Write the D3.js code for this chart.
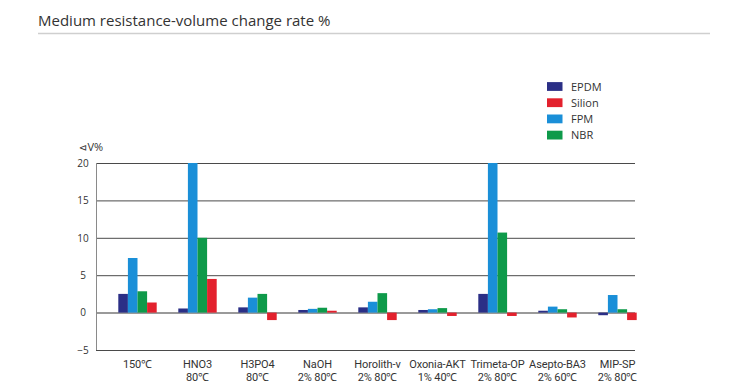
<!DOCTYPE html>
<html><head><meta charset="utf-8">
<script src="https://cdn.jsdelivr.net/npm/d3@7"></script>
<style>
body{margin:0;background:#fff;}
svg{display:block;font-family:"Open Sans","Noto Sans",sans-serif;}
</style></head>
<body><svg id="chart" width="750" height="392"></svg>
<script>
const categories = ["150℃", "HNO3\n80℃", "H3PO4\n80℃", "NaOH\n2% 80℃", "Horolith-v\n2% 80℃", "Oxonia-AKT\n1% 40℃", "Trimeta-OP\n2% 80℃", "Asepto-BA3\n2% 60℃", "MIP-SP\n2% 80℃"];
const barOrder = ["EPDM", "FPM", "NBR", "Silion"];
const legendOrder = ["EPDM", "Silion", "FPM", "NBR"];
const EPDM   = [2.5, 0.55, 0.7, 0.35, 0.7, 0.35, 2.5, 0.25, -0.35];
const FPM    = [7.3, 20, 2.0, 0.5, 1.45, 0.45, 20, 0.8, 2.35];
const NBR    = [2.85, 10, 2.5, 0.65, 2.6, 0.6, 10.7, 0.45, 0.45];
const Silion = [1.35, 4.5, -1.0, 0.25, -1.0, -0.45, -0.45, -0.65, -1.0];
const yTicks = [-5, 0, 5, 10, 15, 20];
const colors = {EPDM:"#2b2f86", Silion:"#e3212d", FPM:"#1a8fd8", NBR:"#0e9a4a"};
const seriesData = {EPDM, FPM, NBR, Silion};

const svg = d3.select("#chart");

// title
svg.append("text").attr("x", 38).attr("y", 26).attr("fill", "#333")
  .style("font-size", "15px").text("Medium resistance-volume change rate %");
svg.append("line").attr("x1", 38).attr("x2", 710).attr("y1", 33.5).attr("y2", 33.5)
  .attr("stroke", "#cfcfcf").attr("stroke-width", 1.5);

const plotL = 96, plotR = 635;
const y = d3.scaleLinear().domain([-5, 20]).range([350, 163]);
const x0 = d3.scaleBand().domain(categories).range([107.5, 647.5]).paddingInner(0.36).paddingOuter(0.18);
const x1 = d3.scaleBand().domain(barOrder).range([0, x0.bandwidth()]);

// y axis with grid
const yAxis = svg.append("g").attr("transform", `translate(${plotL},0)`)
  .call(d3.axisLeft(y).tickValues(yTicks).tickSize(-(plotR - plotL)).tickPadding(8));
yAxis.select(".domain").remove();
yAxis.selectAll(".tick line").attr("stroke", d => d === 0 ? "#9a9a9a" : "#4a4a4a")
  .attr("stroke-width", d => d === 0 ? 2 : 1);
yAxis.selectAll(".tick text").attr("text-anchor", "middle").attr("x", -13)
  .attr("fill", "#333").style("font-size", "10px").style("font-family", "'Open Sans',sans-serif");
svg.append("line").attr("x1", plotL + 0.5).attr("x2", plotL + 0.5).attr("y1", y(20)).attr("y2", y(-5))
  .attr("stroke", "#8a8a8a").attr("stroke-width", 1);

const yl = svg.append("text").attr("x", 79).attr("y", 151).attr("fill", "#333").style("font-size", "11px");
yl.append("tspan").style("font-family", "'DejaVu Sans',sans-serif").style("font-size", "10px").text("⊲");
yl.append("tspan").text("V%");

// bars
const groups = svg.append("g").selectAll("g").data(categories).join("g")
  .attr("transform", d => `translate(${x0(d)},0)`);
groups.selectAll("rect").data((d, i) => barOrder.map(k => ({k, v: seriesData[k][i]}))).join("rect")
  .attr("x", d => x1(d.k)).attr("width", x1.bandwidth())
  .attr("y", d => y(Math.max(0, d.v))).attr("height", d => Math.abs(y(d.v) - y(0)))
  .attr("fill", d => colors[d.k]);

// x axis labels
const xAxis = svg.append("g").attr("transform", `translate(0,${y(-5)})`)
  .call(d3.axisBottom(x0).tickSize(0).tickFormat(""));
xAxis.select(".domain").remove();
xAxis.selectAll(".tick").each(function(d) {
  const lines = d.split("\n");
  const t = d3.select(this).append("text").attr("fill", "#333").attr("text-anchor", "middle")
    .style("font-size", "11px").style("font-family", "Roboto,sans-serif").style("letter-spacing", "-0.1px").attr("y", 18);
  lines.forEach((ln, i) => t.append("tspan").attr("x", 0).attr("dy", i === 0 ? 0 : 12.5).text(ln));
});

// legend
const lg = svg.append("g").selectAll("g").data(legendOrder).join("g")
  .attr("transform", (d, i) => `translate(547,${86.5 + i * 16.2})`);
lg.append("rect").attr("x", 0).attr("y", -4.4).attr("width", 15.5).attr("height", 8.8).attr("fill", d => colors[d]);
lg.append("text").attr("x", 24).attr("y", 4).attr("fill", "#333").style("font-size", "11px").text(d => d);
</script></body></html>
